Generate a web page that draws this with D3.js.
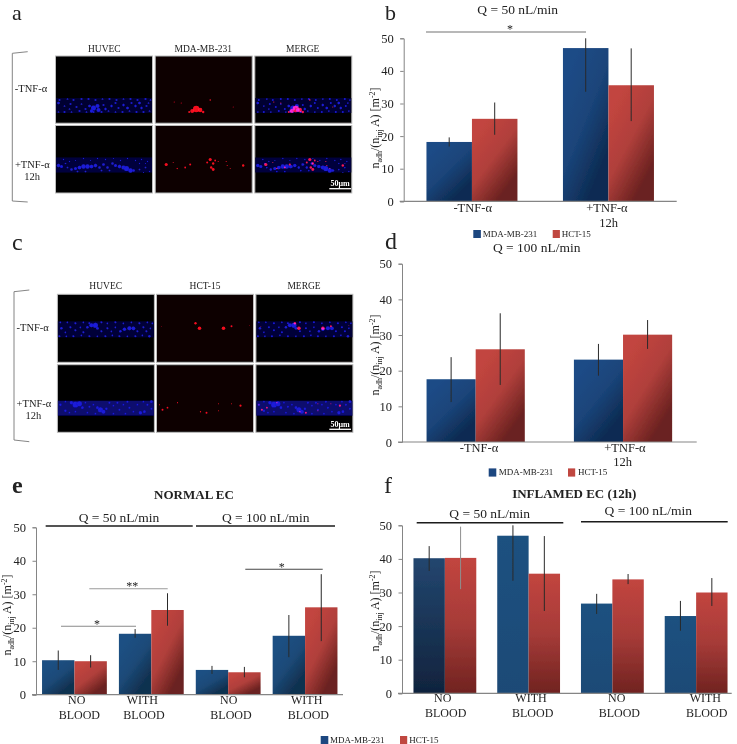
<!DOCTYPE html>
<html><head><meta charset="utf-8">
<script src="https://cdn.jsdelivr.net/npm/d3@7/dist/d3.min.js"></script>
<style>
html,body{margin:0;padding:0;background:#fff}
svg{display:block}
text{font-family:"Liberation Serif","Times New Roman",serif;fill:#222}
</style></head><body>
<svg id="fig" width="737" height="744"></svg>
<script>
// ---------- bar chart data ----------
const series = ["MDA-MB-231", "HCT-15"];
const yTicks = [0, 10, 20, 30, 40, 50];
const tnfGroups = ["-TNF-α", "+TNF-α"];
const bloodGroups = ["NO BLOOD 50", "WITH BLOOD 50", "NO BLOOD 100", "WITH BLOOD 100"];

const bBlue = [18.2, 47.0];    const bRed = [25.3, 35.6];
const bBlueErr = [[16.8, 19.6], [33.6, 50.0]];
const bRedErr = [[20.4, 30.3], [24.6, 46.9]];

const dBlue = [17.6, 23.1];    const dRed = [26.0, 30.1];
const dBlueErr = [[11.2, 23.8], [18.6, 27.5]];
const dRedErr = [[16.0, 36.1], [26.1, 34.2]];

const eBlue = [10.3, 18.2, 7.4, 17.6];   const eRed = [10.0, 25.3, 6.7, 26.1];
const eBlueErr = [[7.4, 13.2], [17.0, 19.6], [6.2, 8.6], [11.2, 23.8]];
const eRedErr = [[8.1, 11.8], [20.6, 30.3], [5.2, 8.3], [16.0, 36.0]];

const fBlue = [40.2, 46.9, 26.7, 23.0];  const fRed = [40.3, 35.6, 33.9, 30.0];
const fBlueErr = [[36.4, 43.8], [33.5, 50.0], [23.6, 29.6], [18.6, 27.5]];
const fRedErr = [[31.0, 49.6], [24.5, 46.8], [32.5, 35.5], [26.0, 34.3]];

// ---------- micrograph spots: [x, y, r] in panel units ----------
const a1BlueSpots = [[4,44,1.2],[12,43,1],[18,44,1.2],[26,43,1.2],[33,43,1.2],[40,44,1.2],[47,43,1],[54,43,1.2],[61,44,1.2],[68,43,1],[75,43,1.2],[82,44,1.2],[90,43,1.2],[95,44,1],[3,56,1],[9,56,1.2],[16,56,1],[24,55,1.2],[31,56,1],[38,56,1.2],[46,56,1.2],[53,55,1],[60,56,1],[67,56,1.2],[74,55,1],[81,56,1.2],[88,56,1.2],[94,55,1],[3,47,1.6],[9,50,1],[15,48,1.2],[14,53,1],[21,51,1.2],[26,48,1],[30,53,1.2],[34,50,1.6],[38,52,3],[42,50,2.4],[43,54,2.4],[36,55,2],[48,49,1.2],[50,53,1.4],[56,50,1.4],[60,47,1.2],[63,52,1.2],[68,49,1.4],[72,52,1.6],[76,47,1.2],[80,50,1.4],[84,47,1.6],[86,52,1.4],[91,50,1.2],[93,47,1]];
const a1RedSpots = [[41,53,3.2],[37,55,2],[45,54,2.2],[34,56,1],[48,56,1.2],[55,44,.8],[19,46,.6],[26,47,.6],[78,51,.5]];
const a2BlueSpots = [[3,40,2],[6,41,1.8],[12,42,1],[16,44,1.4],[20,43,1.8],[24,42,2.2],[28,41,2.6],[32,41,2.6],[36,41,2.2],[40,40,2],[44,42,1.4],[48,39,1.6],[52,42,1.4],[57,38,1.4],[60,40,1.8],[64,41,2],[68,42,2.4],[71,43,3],[75,45,2.6],[78,45,1.6],[22,46,1],[30,46,1],[46,45,1],[54,45,1],[84,44,1],[90,42,1],[94,46,.8],[8,34,.8],[14,36,.8],[20,35,.7],[28,33,.8],[35,35,.7],[42,33,.8],[50,34,.8],[58,33,.7],[65,35,.8],[72,33,.8],[80,35,.8],[86,34,.8],[92,36,.8],[84,38,.8],[90,38,.7],[10,38,.9],[88,47,.7]];
const a2RedSpots = [[11,39,1.6],[22,43,.7],[30,42,.9],[35,39,1],[55,34,1.6],[52,37,1],[58,38,1.2],[56,42,1.2],[58,44,1.4],[60,35,.9],[63,36,.6],[71,36,.6],[72,40,.6],[75,43,.5],[88,40,1.2],[18,37,.5]];
const c1BlueSpots = [[3,28,1],[10,28,1],[18,29,1.2],[26,28,1],[32,29,1.2],[44,28,1.2],[50,29,1],[58,28,1.2],[66,29,1],[74,28,1],[82,29,1.2],[90,28,1],[95,29,1],[2,42,1.2],[9,42,1],[16,42,1.2],[24,41,1],[32,42,1.2],[40,42,1],[48,42,1.2],[55,41,1],[62,42,1.2],[70,42,1],[78,42,1.2],[85,41,1],[92,42,1.4],[4,34,1.4],[8,38,1],[13,33,1.2],[18,36,1.2],[23,33,1],[26,38,1.2],[30,33,1.4],[34,31,2.4],[38,31,3],[40,34,1.6],[44,37,1.2],[50,34,1.2],[54,37,1],[58,33,1],[63,37,1.4],[67,35,2],[72,34,2.4],[76,34,2.2],[80,37,1.2],[86,33,1.2],[89,37,1.2],[93,34,1]];
const c1RedSpots = [[39,29,1.2],[43,34,1.8],[67,34,1.8],[75,32,1],[5,32,.4],[93,31,.4]];
const c2BlueSpots = [[3,40,1.4],[8,37,1],[8,46,1.4],[14,38,2],[18,40,3.4],[22,39,3],[25,43,1.6],[12,48,1],[18,47,1],[28,38,1],[32,42,1.2],[36,40,1],[40,43,1.6],[43,45,3],[46,47,2.4],[49,44,1.4],[38,49,1],[30,48,1],[52,38,1.2],[56,41,1],[60,38,1.2],[62,45,1.2],[66,40,1],[70,37,1.2],[72,43,1.2],[76,47,1],[80,40,1],[83,48,2],[87,47,1.6],[90,40,1.2],[94,44,1.2],[94,37,1.6],[86,37,1],[56,49,1],[68,49,1]];
const c2RedSpots = [[3,40,.5],[6,45,1],[11,43,.9],[21,38,.6],[44,47,.7],[50,48,1],[62,39,.5],[62,46,.5],[75,39,.5],[84,41,1.1]];

// ---------- drawing ----------
const svg = d3.select("#fig");
const defs = svg.append("defs");
const blur = defs.append("filter").attr("id","micro").attr("x","-10%").attr("y","-10%").attr("width","120%").attr("height","120%");
blur.append("feGaussianBlur").attr("stdDeviation",0.7);
const soft = defs.append("filter").attr("id","soft").attr("x","-2%").attr("y","-2%").attr("width","104%").attr("height","104%");
soft.append("feGaussianBlur").attr("stdDeviation",0.3);
function grad(id, stops, x2, y1){
  const g = defs.append("linearGradient").attr("id",id).attr("x1",0).attr("y1",y1).attr("x2",x2).attr("y2",1);
  stops.forEach((c,i)=>g.append("stop").attr("offset",i/(stops.length-1)).attr("stop-color",c));
}
grad("gBlue",["#1c4b86","#1a4479","#0d2b52"],0.55,0.25);
grad("gRed",["#c2453f","#b03f3b","#6b2220"],0.55,0.25);
grad("gBlueE",["#1f5083","#1c4a78","#10304f"],0.55,0.25);
grad("gNavy",["#23466f","#10233d"],0,0);
grad("gFlat",["#1f5180","#1e4a76"],0,0);
grad("gRedF",["#c2453f","#a63b38","#702320"],0,0);

const root = svg.append("g").attr("filter","url(#soft)");

function txt(s,x,y,size,anchor,opts){
  const t = root.append("text").attr("x",x).attr("y",y).attr("font-size",size).attr("text-anchor",anchor||"middle").text(s);
  if(opts&&opts.bold) t.attr("font-weight","bold");
  if(opts&&opts.fill) t.style("fill",opts.fill);
  return t;
}
function hline(x1,x2,y,color,w){
  root.append("line").attr("x1",x1).attr("x2",x2).attr("y1",y).attr("y2",y).attr("stroke",color).attr("stroke-width",w);
}
function yLabel(x,y,size){
  const t = root.append("text").attr("transform",`translate(${x},${y}) rotate(-90)`).attr("text-anchor","middle").attr("font-size",size);
  const sub = size*0.66;
  t.append("tspan").text("n");
  t.append("tspan").attr("dy",3).attr("font-size",sub).text("adh");
  t.append("tspan").attr("dy",-3).text("/(n");
  t.append("tspan").attr("dy",3).attr("font-size",sub).text("inj");
  t.append("tspan").attr("dy",-3).text(" A) [m");
  t.append("tspan").attr("dy",-4).attr("font-size",sub).text("-2");
  t.append("tspan").attr("dy",4).text("]");
}
function chart(c){
  const y = d3.scaleLinear().domain([0,50]).range([c.y0,c.y50]);
  const x = d3.scaleBand().domain(c.groups).range(c.xr).paddingInner(c.pad).paddingOuter(c.pad/2);
  const inner = d3.scaleBand().domain(series).range([0,x.bandwidth()]);
  const g = root.append("g");
  const rows = [];
  c.groups.forEach((k,i)=>{
    rows.push({k,s:series[0],v:c.blue[i],e:c.blueErr[i],fill:c.blueFill(i),ec:"#2a2a2a"});
    rows.push({k,s:series[1],v:c.red[i],e:c.redErr[i],fill:c.redFill(i),ec:(c.grayErr===i)?"#8f8f8f":"#2a2a2a"});
  });
  g.selectAll("rect.bar").data(rows).join("rect").attr("class","bar")
    .attr("x",d=>x(d.k)+inner(d.s)).attr("width",inner.bandwidth())
    .attr("y",d=>y(d.v)).attr("height",d=>y(0)-y(d.v)).attr("fill",d=>d.fill);
  g.selectAll("line.err").data(rows).join("line").attr("class","err")
    .attr("x1",d=>x(d.k)+inner(d.s)+inner.bandwidth()/2).attr("x2",d=>x(d.k)+inner(d.s)+inner.bandwidth()/2)
    .attr("y1",d=>y(d.e[0])).attr("y2",d=>y(d.e[1])).attr("stroke",d=>d.ec).attr("stroke-width",1);
  const ax = g.append("g").attr("transform",`translate(${c.xAxis},0)`)
    .call(d3.axisLeft(y).tickValues(yTicks).tickSize(3.5).tickPadding(6.5));
  ax.selectAll("path,line").attr("stroke","#858585");
  ax.selectAll("text").attr("font-size",12.5).style("font-family",'"Liberation Serif",serif').style("fill","#222");
  g.append("line").attr("x1",c.xAxis-4).attr("x2",c.xEnd).attr("y1",y(0)).attr("y2",y(0)).attr("stroke","#858585").attr("stroke-width",1.2);
}
function legend(x1,x2,xt1,xt2,y,h,base,size){
  root.append("rect").attr("x",x1).attr("y",y).attr("width",7.6).attr("height",h).attr("fill","#1c4680");
  root.append("rect").attr("x",x2).attr("y",y).attr("width",7.2).attr("height",h).attr("fill","#c0473f");
  txt(series[0],xt1,base,size,"start");
  txt(series[1],xt2,base,size,"start");
}

// --- micrograph panels ---
function panel(x,y,w,h,band,blue,red,bandFill,bg){
  const g = root.append("g").attr("transform",`translate(${x},${y})`);
  g.append("rect").attr("width",w).attr("height",h).attr("fill",bg).attr("stroke","#bdbdbd").attr("stroke-width",1);
  const inner = g.append("g").attr("filter","url(#micro)").style("isolation","isolate");
  if(blue){
    inner.append("rect").attr("x",0.5).attr("y",band[0]).attr("width",w-1).attr("height",band[1]-band[0]).attr("fill",bandFill);
    inner.selectAll("circle.b").data(blue).join("circle").attr("class","b")
      .attr("cx",d=>d[0]).attr("cy",d=>d[1]).attr("r",d=>d[2]*0.85).attr("fill","#1a1ad6");
  }
  if(red){
    inner.selectAll("circle.r").data(red).join("circle").attr("class","r")
      .attr("cx",d=>d[0]).attr("cy",d=>d[1]).attr("r",d=>d[2]).attr("fill","#f5101e")
      .style("mix-blend-mode","screen");
  }
}
function row(xs,y,h,band,blue,red,bandFill){
  const w = 97;
  panel(xs[0],y,w,h,band,blue,null,bandFill,"#000002");
  panel(xs[1],y,w,h,band,null,red,bandFill,"#070001");
  panel(xs[2],y,w,h,band,blue,red,bandFill,"#040001");
}
const axs=[55.5,155.2,254.8], cxs=[57.4,156.5,255.9];
row(axs,56,67.2,[42,57],a1BlueSpots,a1RedSpots,"#040430");
row(axs,125.5,67.5,[32,47],a2BlueSpots,a2RedSpots,"#04043c");
row(cxs,294.3,68,[27,43],c1BlueSpots,c1RedSpots,"#040438");
row(cxs,364.7,67.6,[36,51],c2BlueSpots,c2RedSpots,"#09096e");

txt("HUVEC",104.3,51.7,9.5); txt("MDA-MB-231",203.3,51.7,9.5); txt("MERGE",302.7,51.7,9.5);
txt("HUVEC",105.7,289.3,9.5); txt("HCT-15",205,289.3,9.5); txt("MERGE",304,289.3,9.5);
txt("-TNF-α",31,92.3,10.5); txt("+TNF-α",32.3,167.7,10.5); txt("12h",32,180,10.5);
txt("-TNF-α",32.7,331,10.5); txt("+TNF-α",34,406.7,10.5); txt("12h",33.3,419,10.5);
root.append("path").attr("d","M27.7,51.7 L12.3,53.3 V201 L27.7,202").attr("fill","none").attr("stroke","#777").attr("stroke-width",0.9);
root.append("path").attr("d","M29.3,290 L14,291.7 V440 L29.3,441.7").attr("fill","none").attr("stroke","#777").attr("stroke-width",0.9);
txt("50μm",340,186,8,"middle",{bold:true,fill:"#fff"}); hline(329.3,351,188.7,"#fff",1.3);
txt("50μm",340,426.7,8,"middle",{bold:true,fill:"#fff"}); hline(329.3,351,429.3,"#fff",1.3);

// --- charts ---
chart({groups:tnfGroups,blue:bBlue,red:bRed,blueErr:bBlueErr,redErr:bRedErr,y0:201.3,y50:38.3,xr:[403.7,676.7],pad:1/3,xAxis:403.7,xEnd:676.7,blueFill:()=>"url(#gBlue)",redFill:()=>"url(#gRed)"});
chart({groups:tnfGroups,blue:dBlue,red:dRed,blueErr:dBlueErr,redErr:dRedErr,y0:442,y50:263.7,xr:[402,696.7],pad:1/3,xAxis:402,xEnd:696.7,blueFill:()=>"url(#gBlue)",redFill:()=>"url(#gRed)"});
chart({groups:bloodGroups,blue:eBlue,red:eRed,blueErr:eBlueErr,redErr:eRedErr,y0:694.7,y50:527.3,xr:[36,343.5],pad:0.157,xAxis:36,xEnd:343,blueFill:()=>"url(#gBlueE)",redFill:()=>"url(#gRed)"});
chart({groups:bloodGroups,blue:fBlue,red:fRed,blueErr:fBlueErr,redErr:fRedErr,y0:693.3,y50:525.3,xr:[403,738],pad:0.25,xAxis:402,xEnd:731.7,grayErr:0,blueFill:i=>i===0?"url(#gNavy)":"url(#gFlat)",redFill:()=>"url(#gRedF)"});

// panel letters
txt("a",12,19.7,22,"start"); txt("b",385,19.7,22,"start"); txt("c",12,250,24,"start"); txt("d",385,249,24,"start");
txt("e",12,492.7,24,"start",{bold:true}); txt("f",384,493,24,"start");

// b labels
txt("Q = 50 nL/min",517.7,14.3,13.5);
hline(426,586,32,"#a0a0a0",1.3); txt("*",510,33,12);
txt("-TNF-α",472.7,212,12.5); txt("+TNF-α",607,212,12.5); txt("12h",608.7,226.7,12.5);
yLabel(379,128,12);
legend(473.3,552.7,482.7,561.7,230,8,236.7,9);

// d labels
txt("Q = 100 nL/min",536.7,252.3,13.5);
txt("-TNF-α",479,452,12.5); txt("+TNF-α",625,452,12.5); txt("12h",622.7,466,12.5);
yLabel(379,355,12);
legend(488.7,568,498.7,578,468.4,8.2,475.3,9);

// e labels
txt("NORMAL EC",194,499,13,"middle",{bold:true});
txt("Q = 50 nL/min",119,521.7,13.5); txt("Q = 100 nL/min",265.7,521.7,13.5);
hline(45.7,192.7,526,"#1a1a1a",1.4); hline(196,335,526,"#1a1a1a",1.4);
hline(61,136,626.3,"#8a8a8a",1.1); txt("*",97,628,12);
hline(89.3,167.7,588.7,"#9a9a9a",1.1); txt("**",132.3,590,12);
hline(245.3,322.7,569.3,"#444",1.1); txt("*",281.7,571,12);
[[76.7,79.3,"NO"],[142.3,144,"WITH"],[228.7,231,"NO"],[306.7,308.3,"WITH"]].forEach(l=>{
  txt(l[2],l[0],704,12); txt("BLOOD",l[1],718.7,12);
});
yLabel(11,615,12);

// f labels
txt("INFLAMED EC (12h)",574.3,498.3,13,"middle",{bold:true});
txt("Q = 50 nL/min",489.7,517.7,13.5); txt("Q = 100 nL/min",648.3,515,13.5);
hline(416.7,563.3,522.7,"#1a1a1a",1.4); hline(581,727.7,521.7,"#1a1a1a",1.4);
[[442.7,445.7,"NO"],[531,532.7,"WITH"],[616.7,619.3,"NO"],[705.3,706.7,"WITH"]].forEach(l=>{
  txt(l[2],l[0],702,12); txt("BLOOD",l[1],716.7,12);
});
yLabel(379,611,12);
legend(320.7,400,330,409.3,736,8,742.7,9);
</script>
</body></html>
